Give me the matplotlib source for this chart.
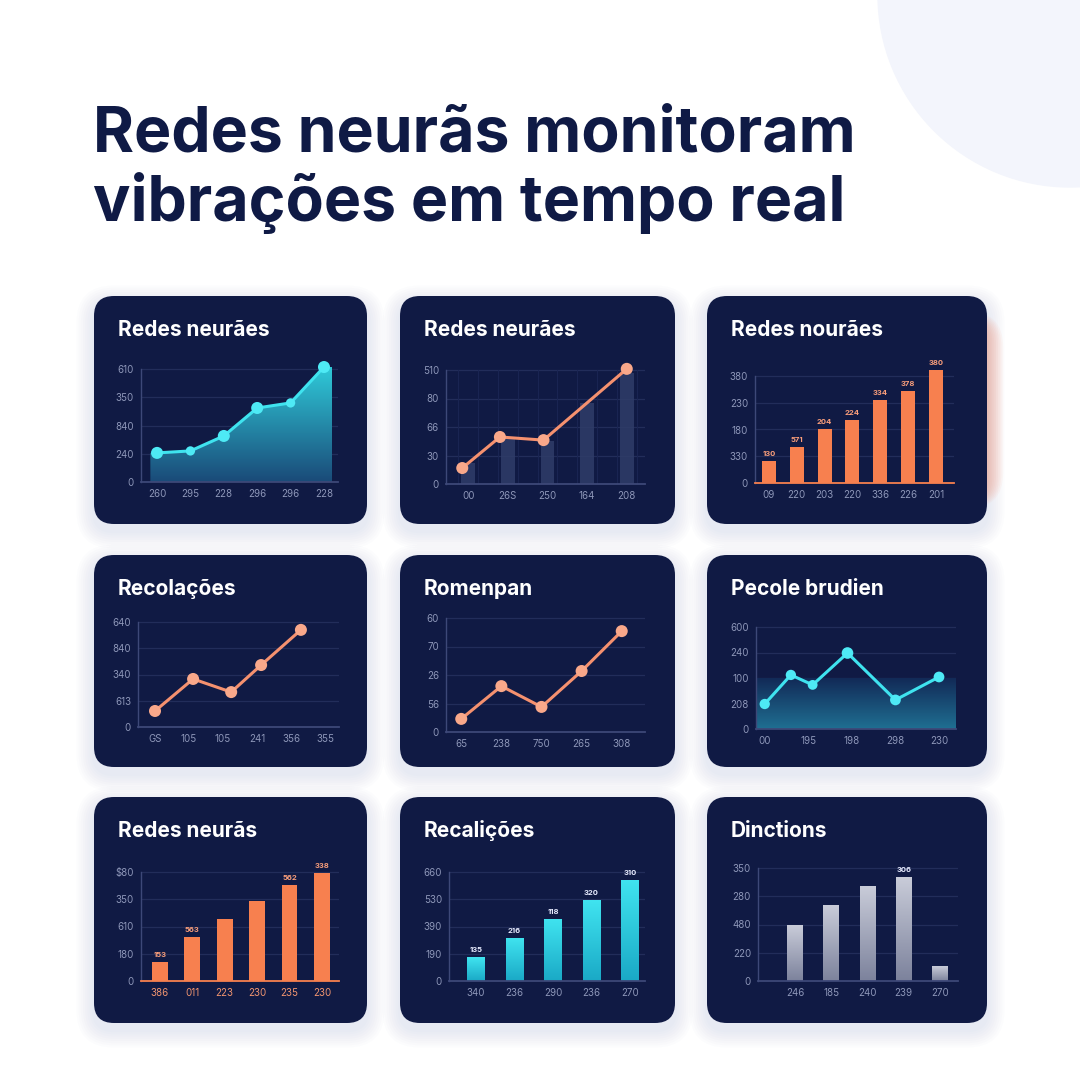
import matplotlib
matplotlib.use('Agg')
import matplotlib.pyplot as plt
import numpy as np
from matplotlib.patches import FancyBboxPatch, Circle, Polygon

plt.rcParams['font.family'] = ['Inter', 'DejaVu Sans']

# ---------------- data ----------------
title_lines = ["Redes neurãs monitoram", "vibrações em tempo real"]

p1_title = "Redes neurães"
p1_ylabels = ["0", "240", "840", "350", "610"]
p1_xlabels = ["260", "295", "228", "296", "296", "228"]
p1_values = [1.03, 1.10, 1.63, 2.62, 2.80, 4.07]

p2_title = "Redes neurães"
p2_ylabels = ["0", "30", "66", "80", "510"]
p2_xlabels = ["00", "26S", "250", "164", "208"]
p2_bars = [0.74, 1.58, 1.51, 2.84, 3.89]
p2_line_x = [-0.15, 0.8, 1.9, 4.0]
p2_line_y = [0.56, 1.65, 1.54, 4.04]

p3_title = "Redes nourães"
p3_ylabels = ["0", "330", "180", "230", "380"]
p3_xlabels = ["09", "220", "203", "220", "336", "226", "201"]
p3_values = [0.82, 1.35, 2.02, 2.36, 3.10, 3.44, 4.22]
p3_vlabels = ["130", "571", "204", "224", "334", "378", "380"]

p4_title = "Recolações"
p4_ylabels = ["0", "613", "340", "840", "640"]
p4_xlabels = ["GS", "105", "105", "241", "356", "355"]
p4_x = [0, 1.12, 2.24, 3.12, 4.29]
p4_y = [0.61, 1.83, 1.33, 2.36, 3.70]

p5_title = "Romenpan"
p5_ylabels = ["0", "56", "26", "70", "60"]
p5_xlabels = ["65", "238", "750", "265", "308"]
p5_y = [0.46, 1.61, 0.88, 2.14, 3.54]

p6_title = "Pecole brudien"
p6_ylabels = ["0", "208", "100", "240", "600"]
p6_xlabels = ["00", "195", "198", "298", "230"]
p6_x = [0, 0.6, 1.1, 1.9, 3.0, 4.0]
p6_y = [0.98, 2.12, 1.73, 2.98, 1.14, 2.04]
p6_band = 2.0

p7_title = "Redes neurãs"
p7_ylabels = ["0", "180", "610", "350", "$80"]
p7_xlabels = ["386", "011", "223", "230", "235", "230"]
p7_values = [0.70, 1.61, 2.27, 2.93, 3.52, 3.96]
p7_vlabels = ["153", "563", "", "", "562", "338"]

p8_title = "Recalições"
p8_ylabels = ["0", "190", "390", "530", "660"]
p8_xlabels = ["340", "236", "290", "236", "270"]
p8_values = [0.88, 1.58, 2.28, 2.97, 3.71]
p8_vlabels = ["135", "216", "118", "320", "310"]

p9_title = "Dinctions"
p9_ylabels = ["0", "220", "480", "280", "350"]
p9_xlabels = ["246", "185", "240", "239", "270"]
p9_values = [1.98, 2.69, 3.36, 3.68, 0.53]
p9_vlabels = ["", "", "", "306", ""]

# ---------------- styles ----------------
W = 1080
NAVY_TXT = '#0f1a45'
CARD = '#101a44'
GRID = '#222d5a'
SPINE = '#3d4878'
TICK = '#8d96b8'
CYAN = '#3fe3ef'
SALMON = '#f5916f'
SALMON_M = '#f9a88a'
ORANGE = '#f7804f'
YMAX = 4.6

fig = plt.figure(figsize=(10.8, 10.8), dpi=100)
fig.patch.set_facecolor('white')
bg = fig.add_axes([0, 0, 1, 1], zorder=0)
bg.set_xlim(0, W)
bg.set_ylim(W, 0)
bg.axis('off')

bg.add_patch(Circle((1070, -5), 192, color='#f3f5fc', zorder=0))

for i, line in enumerate(title_lines):
    bg.text(93, 151 + i * 70, line, fontsize=45, fontweight='bold',
            color=NAVY_TXT, va='baseline', ha='left', zorder=5)

cards = [
    (94, 296, 367, 524), (400, 296, 675, 524), (707, 296, 987, 524),
    (94, 555, 367, 767), (400, 555, 675, 767), (707, 555, 987, 767),
    (94, 797, 367, 1023), (400, 797, 675, 1023), (707, 797, 987, 1023),
]
titles = [p1_title, p2_title, p3_title, p4_title, p5_title, p6_title,
          p7_title, p8_title, p9_title]

for idx, ((x0, y0, x1, y1), t) in enumerate(zip(cards, titles)):
    # shadow
    for k in range(1, 9):
        grow = k * 2.2
        bg.add_patch(FancyBboxPatch((x0 - grow, y0 - grow + 7), x1 - x0 + 2 * grow,
                                    y1 - y0 + 2 * grow,
                                    boxstyle=f"round,pad=0,rounding_size={20 + grow}",
                                    fc='#7d8cc4', ec='none', alpha=0.02, zorder=1))
    if idx == 2:
        for k in range(1, 10):
            grow = k * 1.8
            bg.add_patch(FancyBboxPatch((x0 + 40, y0 + 25 - grow * 0.6), x1 - x0 - 40 + grow,
                                        y1 - y0 - 50 + grow * 1.2,
                                        boxstyle=f"round,pad=0,rounding_size={20 + grow}",
                                        fc='#ff7048', ec='none', alpha=0.045, zorder=1))
    bg.add_patch(FancyBboxPatch((x0, y0), x1 - x0, y1 - y0,
                                boxstyle="round,pad=0,rounding_size=20",
                                fc=CARD, ec='none', zorder=2))
    bg.text(x0 + 24, y0 + 40, t, fontsize=15, fontweight='bold', color='white',
            va='baseline', ha='left', zorder=5)


def make_ax(left, right, base, top4, xlim, ylabels, xlabels, xticks=None,
            base_color=SPINE, xcolor=TICK):
    h = (base - top4) * YMAX / 4.0
    ax = fig.add_axes([left / W, 1 - base / W, (right - left) / W, h / W], zorder=3)
    ax.set_facecolor('none')
    ax.set_xlim(*xlim)
    ax.set_ylim(0, YMAX)
    for yy in range(1, 5):
        ax.axhline(yy, color=GRID, lw=0.9, zorder=0)
    for s in ['top', 'right']:
        ax.spines[s].set_visible(False)
    ax.spines['left'].set_bounds(0, 4)
    ax.spines['left'].set_color(SPINE)
    ax.spines['left'].set_linewidth(1.0)
    ax.spines['bottom'].set_color(base_color)
    ax.spines['bottom'].set_linewidth(1.3)
    ax.set_yticks(range(5))
    ax.set_yticklabels(ylabels)
    if xticks is None:
        xticks = range(len(xlabels))
    ax.set_xticks(list(xticks))
    ax.set_xticklabels(xlabels)
    ax.tick_params(axis='y', length=0, pad=5, labelsize=7, labelcolor=TICK)
    ax.tick_params(axis='x', length=0, pad=5, labelsize=7, labelcolor=xcolor)
    return ax


def grad_image(ax, extent, c_top, c_bot, clip, zorder=2):
    from matplotlib.colors import LinearSegmentedColormap
    cmap = LinearSegmentedColormap.from_list('g', [c_bot, c_top])
    g = np.linspace(0, 1, 256).reshape(-1, 1)
    im = ax.imshow(g, extent=extent, origin='lower', aspect='auto', cmap=cmap,
                   zorder=zorder, interpolation='bicubic')
    im.set_clip_path(clip)
    return im


def gradient_bars(ax, xs, values, width, c_top, c_bot):
    bars = ax.bar(xs, values, width=width, color='none', zorder=2)
    for b in bars:
        x, w, hgt = b.get_x(), b.get_width(), b.get_height()
        grad_image(ax, [x, x + w, 0, hgt], c_top, c_bot, b, zorder=2)
    return bars


def bar_labels(ax, xs, values, labels, color):
    for x, v, l in zip(xs, values, labels):
        if l:
            ax.annotate(l, (x, v), xytext=(0, 3), textcoords='offset points',
                        ha='center', va='bottom', fontsize=5.5, fontweight='bold',
                        color=color, zorder=5)


# ---- Panel 1: area line ----
ax = make_ax(141, 338, 482, 369, (-0.48, 5.42), p1_ylabels, p1_xlabels)
xs = list(range(len(p1_values)))
fx = [xs[0] - 0.2] + xs + [xs[-1] + 0.25]
fy = [p1_values[0]] + p1_values + [p1_values[-1]]
poly = Polygon(list(zip(fx, fy)) + [(fx[-1], 0), (fx[0], 0)], closed=True,
               fc='none', ec='none', transform=ax.transData)
ax.add_patch(poly)
grad_image(ax, [fx[0], fx[-1], 0, max(p1_values)], '#2fcad9', '#1a4a78', poly, zorder=1)
ax.plot(xs, p1_values, color=CYAN, lw=2.2, zorder=4)
ax.scatter(xs, p1_values, s=[75, 45, 75, 75, 45, 75], color='#4eeaf5', zorder=5,
           edgecolors='none')

# ---- Panel 2: faded bars + salmon line ----
ax = make_ax(446, 645, 484, 370, (-0.56, 4.46), p2_ylabels, p2_xlabels)
for vx in np.arange(-0.25, 4.5, 0.5):
    ax.axvline(vx, ymax=4 / YMAX, color='#1a2553', lw=0.7, zorder=0)
ax.bar(range(len(p2_bars)), p2_bars, width=0.34, color='#2f3d69', alpha=0.85, zorder=1)
ax.plot(p2_line_x, p2_line_y, color=SALMON, lw=2.2, zorder=4)
ax.scatter(p2_line_x, p2_line_y, s=75, color=SALMON_M, zorder=5, edgecolors='none')

# ---- Panel 3: orange bars ----
ax = make_ax(755, 954, 483, 376, (-0.5, 6.65), p3_ylabels, p3_xlabels, base_color=ORANGE)
xs = range(len(p3_values))
ax.bar(xs, p3_values, width=0.5, color=ORANGE, zorder=2)
bar_labels(ax, xs, p3_values, p3_vlabels, '#fb9f7b')

# ---- Panel 4: salmon line ----
ax = make_ax(138, 339, 727, 622, (-0.5, 5.41), p4_ylabels, p4_xlabels)
ax.plot(p4_x, p4_y, color=SALMON, lw=2.2, zorder=4)
ax.scatter(p4_x, p4_y, s=75, color=SALMON_M, zorder=5, edgecolors='none')

# ---- Panel 5: salmon line ----
ax = make_ax(446, 645, 732, 618, (-0.38, 4.58), p5_ylabels, p5_xlabels)
xs = list(range(len(p5_y)))
ax.plot(xs, p5_y, color=SALMON, lw=2.2, zorder=4)
ax.scatter(xs, p5_y, s=75, color=SALMON_M, zorder=5, edgecolors='none')

# ---- Panel 6: cyan line over band ----
ax = make_ax(756, 956, 729, 627, (-0.2, 4.39), p6_ylabels, p6_xlabels)
band = Polygon([(-0.2, 0), (4.39, 0), (4.39, p6_band), (-0.2, p6_band)], closed=True,
               fc='none', ec='none', transform=ax.transData)
ax.add_patch(band)
grad_image(ax, [-0.2, 4.39, 0, p6_band], '#122a57', '#1f6f92', band, zorder=1)
ax.plot(p6_x, p6_y, color=CYAN, lw=2.2, zorder=4)
ax.scatter(p6_x, p6_y, s=[55, 55, 50, 70, 60, 60], color='#4eeaf5', zorder=5,
           edgecolors='none')

# ---- Panel 7: orange bars ----
ax = make_ax(141, 339, 981, 872, (-0.58, 5.52), p7_ylabels, p7_xlabels,
             base_color=ORANGE, xcolor='#f0946f')
xs = range(len(p7_values))
ax.bar(xs, p7_values, width=0.48, color=ORANGE, zorder=2)
bar_labels(ax, xs, p7_values, p7_vlabels, '#fb9f7b')

# ---- Panel 8: cyan gradient bars ----
ax = make_ax(449, 645, 981, 872, (-0.70, 4.39), p8_ylabels, p8_xlabels)
xs = range(len(p8_values))
gradient_bars(ax, xs, p8_values, 0.46, '#40e4f0', '#1aa9c6')
bar_labels(ax, xs, p8_values, p8_vlabels, '#e8ecff')

# ---- Panel 9: gray gradient bars ----
ax = make_ax(758, 958, 981, 868, (-1.02, 4.5), p9_ylabels, p9_xlabels)
xs = range(len(p9_values))
gradient_bars(ax, xs, p9_values, 0.43, '#c9ccd9', '#7c829c')
bar_labels(ax, xs, p9_values, p9_vlabels, '#e8ecff')

fig.savefig('out.png', dpi=100, facecolor='white')
